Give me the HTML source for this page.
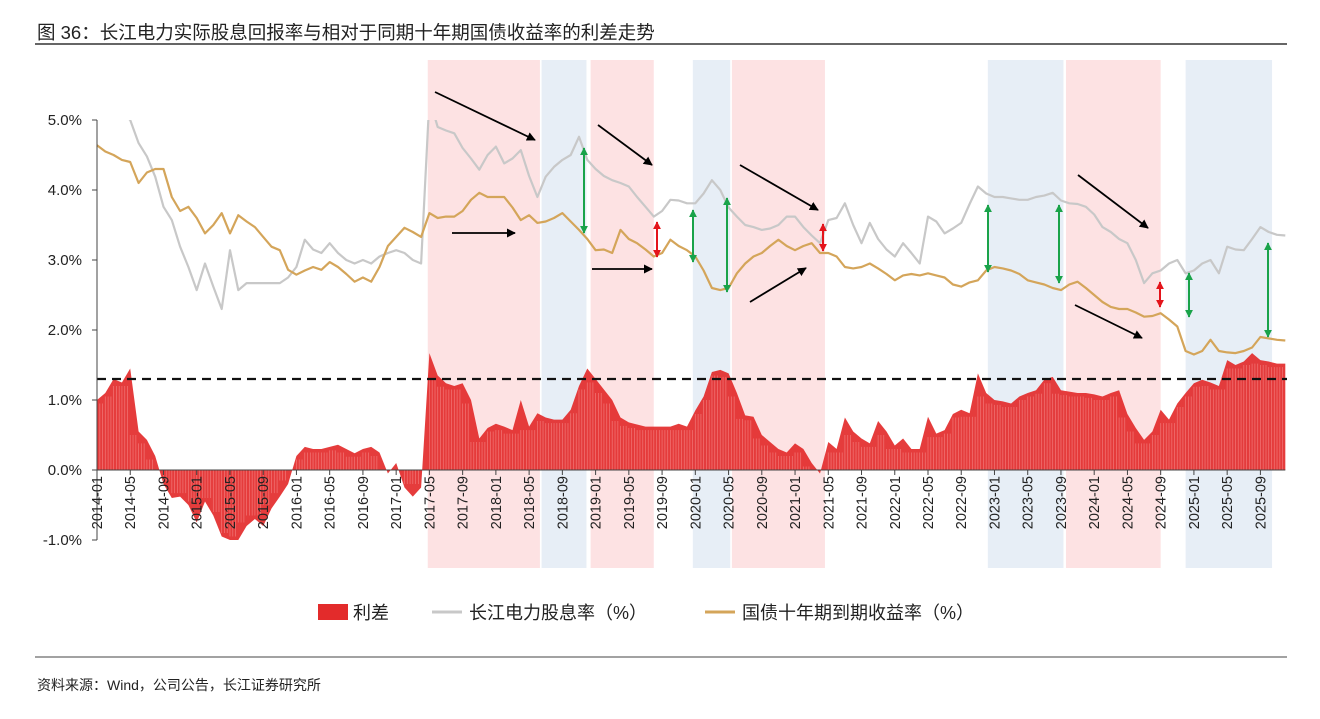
<!DOCTYPE html>
<html><head><meta charset="utf-8">
<style>
html,body{margin:0;padding:0;background:#fff;}
body{width:1320px;height:714px;overflow:hidden;font-family:"Liberation Sans","Noto Sans CJK SC",sans-serif;}
</style></head>
<body>
<svg id="chart" width="1320" height="714" viewBox="0 0 1320 714" xmlns="http://www.w3.org/2000/svg" font-family="Liberation Sans, Noto Sans CJK SC, sans-serif">
<defs>
<clipPath id="clipTop"><rect x="90" y="120" width="1210" height="460"/></clipPath>
<marker id="ahB" viewBox="0 0 10 10" refX="9" refY="5" markerWidth="5" markerHeight="5" orient="auto-start-reverse"><path d="M0,0 L10,5 L0,10 z" fill="#000"/></marker>
<marker id="ahG" viewBox="0 0 10 10" refX="9" refY="5" markerWidth="4" markerHeight="4" orient="auto-start-reverse"><path d="M0,0 L10,5 L0,10 z" fill="#1aa34a"/></marker>
<marker id="ahR" viewBox="0 0 10 10" refX="9" refY="5" markerWidth="4" markerHeight="4" orient="auto-start-reverse"><path d="M0,0 L10,5 L0,10 z" fill="#e4141b"/></marker>
<filter id="blur" x="-5%" y="-200%" width="110%" height="500%"><feGaussianBlur stdDeviation="2"/></filter>
</defs>
<text x="37" y="39" font-size="18.5" fill="#222">图  36：长江电力实际股息回报率与相对于同期十年期国债收益率的利差走势</text>
<line x1="35" y1="44" x2="1287" y2="44" stroke="#666" stroke-width="2"/>
<g id="bands"></g>
<g id="spread"></g>
<g id="dash"></g>
<g id="lines"></g>
<g id="axes"></g>
<g id="annot"></g>
<g id="legend">
<rect x="318" y="604" width="30" height="16" fill="#e32b2b"/>
<text x="353" y="619" font-size="18" fill="#222">利差</text>
<line x1="432" y1="612" x2="462" y2="612" stroke="#c8c8c8" stroke-width="3"/>
<text x="469" y="619" font-size="18" fill="#222">长江电力股息率（%）</text>
<line x1="705" y1="612" x2="735" y2="612" stroke="#d4a55a" stroke-width="3"/>
<text x="742" y="619" font-size="18" fill="#222">国债十年期到期收益率（%）</text>
</g>
<line x1="35" y1="657" x2="1287" y2="657" stroke="#444" stroke-width="1"/>
<text x="37" y="690" font-size="14" fill="#222">资料来源：Wind，公司公告，长江证券研究所</text>
</svg>
<script>
const startYear = 2014;
const yieldVals = [
4.64,4.55,4.5,4.43,4.4,4.1,4.25,4.3,4.3,3.9,3.7,3.76,
3.6,3.38,3.5,3.67,3.38,3.64,3.55,3.47,3.33,3.19,3.14,2.86,
2.79,2.85,2.9,2.86,2.97,2.9,2.8,2.69,2.75,2.69,2.9,3.2,
3.33,3.46,3.4,3.33,3.67,3.6,3.62,3.62,3.7,3.86,3.96,3.9,
3.9,3.9,3.75,3.57,3.64,3.53,3.55,3.6,3.67,3.55,3.43,3.3,
3.14,3.15,3.1,3.43,3.3,3.24,3.15,3.05,3.1,3.29,3.2,3.14,
3.05,2.85,2.6,2.57,2.6,2.81,2.95,3.05,3.1,3.2,3.29,3.2,
3.14,3.2,3.24,3.1,3.1,3.05,2.9,2.88,2.9,2.95,2.88,2.8,
2.71,2.78,2.8,2.78,2.81,2.78,2.75,2.65,2.62,2.68,2.71,2.85,
2.9,2.88,2.85,2.8,2.71,2.68,2.65,2.6,2.57,2.65,2.69,2.6,
2.5,2.4,2.33,2.3,2.3,2.25,2.19,2.2,2.24,2.15,2.05,1.7,
1.65,1.7,1.86,1.7,1.68,1.67,1.7,1.75,1.9,1.88,1.86,1.85];
const dividendVals = [
5.6,5.5,5.3,5.1,5.0,4.67,4.48,4.19,3.76,3.57,3.19,2.9,
2.57,2.95,2.62,2.3,3.14,2.57,2.67,2.67,2.67,2.67,2.67,2.75,
2.9,3.29,3.15,3.1,3.24,3.1,3.0,2.95,3.0,2.95,3.05,3.1,
3.14,3.1,3.0,2.95,5.3,4.9,4.85,4.81,4.6,4.45,4.29,4.5,
4.62,4.38,4.45,4.57,4.2,3.9,4.19,4.33,4.43,4.5,4.76,4.43,
4.3,4.2,4.14,4.1,4.05,3.9,3.76,3.62,3.7,3.86,3.85,3.81,
3.81,3.95,4.14,4.0,3.75,3.62,3.5,3.47,3.43,3.45,3.5,3.62,
3.62,3.47,3.35,3.24,3.57,3.6,3.81,3.5,3.24,3.53,3.3,3.15,
3.05,3.24,3.1,2.95,3.62,3.55,3.38,3.45,3.53,3.8,4.05,3.95,
3.9,3.9,3.88,3.86,3.86,3.9,3.92,3.96,3.85,3.81,3.8,3.76,
3.65,3.47,3.4,3.3,3.24,3.0,2.67,2.81,2.85,2.95,3.0,2.81,
2.85,2.95,3.0,2.81,3.19,3.15,3.14,3.3,3.47,3.4,3.36,3.35];
const spreadVals = [
1.0,1.1,1.3,1.25,1.45,0.55,0.43,0.2,-0.2,-0.4,-0.38,-0.5,
-0.75,-0.45,-0.65,-0.95,-1.0,-1.0,-0.8,-0.7,-0.8,-0.55,-0.38,-0.2,
0.2,0.33,0.3,0.3,0.33,0.36,0.3,0.24,0.3,0.33,0.25,-0.05,
0.1,-0.25,-0.38,-0.25,1.67,1.35,1.24,1.2,1.24,1.0,0.45,0.6,
0.66,0.62,0.57,1.0,0.62,0.81,0.75,0.72,0.72,0.86,1.2,1.45,
1.3,1.15,1.0,0.75,0.68,0.65,0.62,0.62,0.62,0.62,0.66,0.62,
0.85,1.05,1.4,1.43,1.38,1.1,0.78,0.76,0.5,0.4,0.3,0.25,
0.38,0.3,0.1,-0.05,0.4,0.3,0.75,0.55,0.45,0.38,0.7,0.55,
0.35,0.45,0.3,0.3,0.76,0.52,0.57,0.8,0.86,0.81,1.38,1.1,
1.0,0.98,0.95,1.05,1.1,1.14,1.29,1.33,1.14,1.12,1.1,1.1,
1.08,1.05,1.1,1.14,0.8,0.6,0.43,0.55,0.86,0.72,0.95,1.1,
1.24,1.29,1.25,1.2,1.57,1.5,1.55,1.67,1.57,1.55,1.52,1.52];
const yTicks = [5,4,3,2,1,0,-1];
const thresholdVal = 1.3;
// shaded periods [start month index, end month index, type]
const bandStarts = [39.8, 53.5, 59.4, 71.7, 76.4, 107.2, 116.6, 131.0];
const bandEnds   = [53.3, 58.9, 67.0, 76.2, 87.6, 116.3, 128.0, 141.4];
const bandTypes  = ["pink","blue","pink","blue","pink","blue","pink","blue"];

const NS = "http://www.w3.org/2000/svg";
const X0 = 97, PXM = 8.31;
const xS = m => X0 + m * PXM;
const yS = v => 470 - v * 70;
function el(tag, attrs, parent){const e=document.createElementNS(NS,tag);for(const k in attrs)e.setAttribute(k,attrs[k]);parent.appendChild(e);return e;}
const g = id => document.getElementById(id);

bandStarts.forEach((s,i)=>{
  const r = el('rect',{x:xS(s),y:60,width:xS(bandEnds[i])-xS(s),height:508,fill:bandTypes[i]==='pink'?'#fde2e3':'#e7eef6'},g('bands'));
  
  
});

let d = 'M'+xS(0)+','+yS(0);
spreadVals.forEach((v,i)=>{ d += ' L'+xS(i).toFixed(1)+','+yS(v).toFixed(1); });
d += ' L'+xS(spreadVals.length-1)+','+yS(0)+' Z';
const area = el('path',{d:d,fill:'#e32b2b','fill-opacity':'0.92'},g('spread'));


for(let i=0;i<spreadVals.length-1;i++){
  const v = Math.min(spreadVals[i], spreadVals[i+1]);
  const vmax = Math.max(spreadVals[i], spreadVals[i+1]);
  for(let k=0;k<3;k++){
    const x = xS(i)+k*2.8;
    const top = spreadVals[i] >= 0 ? Math.max(0, v - 0.05) : Math.min(0, vmax + 0.05);
    const ln = el('line',{x1:x,x2:x,y1:yS(0),y2:yS(top),stroke:'#f07070','stroke-width':0.8},g('spread'));
    
    
  }
}

const sh = el('line',{x1:97,x2:1287,y1:yS(thresholdVal)+5,y2:yS(thresholdVal)+5,stroke:'#999','stroke-width':3,filter:'url(#blur)',opacity:0.6},g('dash'));


const dl = el('line',{x1:97,x2:1287,y1:yS(thresholdVal),y2:yS(thresholdVal),stroke:'#111','stroke-width':2.2,'stroke-dasharray':'9,6'},g('dash'));



function poly(vals){return vals.map((v,i)=>xS(i).toFixed(1)+','+yS(v).toFixed(1)).join(' ');}
const gl = el('polyline',{points:poly(dividendVals),fill:'none',stroke:'#c8c8c8','stroke-width':2.2,'clip-path':'url(#clipTop)','stroke-linejoin':'round'},g('lines'));


const yl = el('polyline',{points:poly(yieldVals),fill:'none',stroke:'#d4a55a','stroke-width':2.2,'stroke-linejoin':'round'},g('lines'));



const ya = el('line',{x1:97,x2:97,y1:yS(5),y2:yS(-1),stroke:'#444','stroke-width':1},g('axes'));


yTicks.forEach(t=>{
  const tk = el('line',{x1:92,x2:97,y1:yS(t),y2:yS(t),stroke:'#444'},g('axes'));
  
  
  const tx = el('text',{x:82,y:yS(t)+5,'font-size':15,'text-anchor':'end',fill:'#222'},g('axes'));
  tx.textContent = t.toFixed(1)+'%';
  
  
});
const xa = el('line',{x1:97,x2:xS(spreadVals.length-1),y1:yS(0),y2:yS(0),stroke:'#444'},g('axes'));


for(let m=0;m<spreadVals.length;m+=4){
  const x = xS(m);
  const tk = el('line',{x1:x,x2:x,y1:470,y2:475,stroke:'#444'},g('axes'));
  
  
  const yr = startYear + Math.floor(m/12), mo = (m%12)+1;
  const tx = el('text',{x:0,y:0,'font-size':14.5,'text-anchor':'end',fill:'#222',transform:'translate('+(x+5)+',476) rotate(-90)'},g('axes'));
  tx.textContent = yr+'-'+String(mo).padStart(2,'0');
  
  
}

const blackArrows = [[435,92,535,140],[452,233,515,233],[598,125,652,165],[592,269,652,269],[740,165,818,210],[750,302,806,268],[1078,175,1148,228],[1075,305,1142,338]];
blackArrows.forEach(a=>{
  const ln = el('line',{x1:a[0],y1:a[1],x2:a[2],y2:a[3],stroke:'#000','stroke-width':1.8,'marker-end':'url(#ahB)'},g('annot'));
  
  
});
const greenArrows = [[584,148,233],[693,210,262],[727,198,292],[988,205,272],[1059,205,283],[1189,273,317],[1268,243,337]];
greenArrows.forEach(a=>{
  const ln = el('line',{x1:a[0],y1:a[1],x2:a[0],y2:a[2],stroke:'#1aa34a','stroke-width':2,'marker-start':'url(#ahG)','marker-end':'url(#ahG)'},g('annot'));
  
  
});
const redArrows = [[657,222,257],[823,224,251],[1160,282,307]];
redArrows.forEach(a=>{
  const ln = el('line',{x1:a[0],y1:a[1],x2:a[0],y2:a[2],stroke:'#e4141b','stroke-width':2,'marker-start':'url(#ahR)','marker-end':'url(#ahR)'},g('annot'));
  
  
});
</script>
</body></html>
